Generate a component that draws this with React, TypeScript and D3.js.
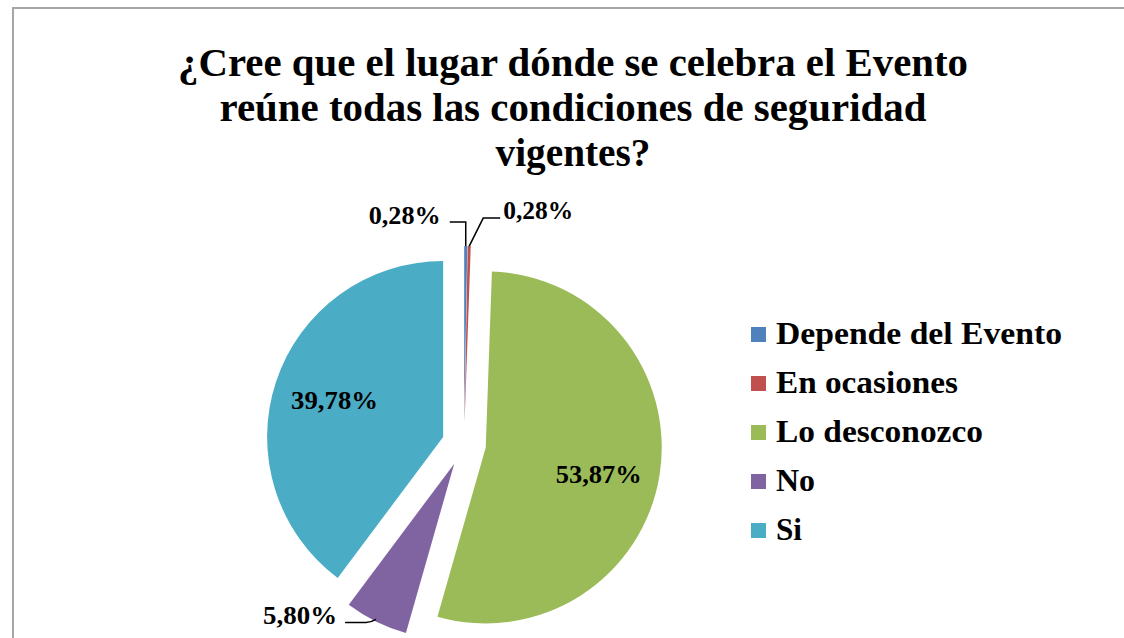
import React from "react";
import * as d3 from "d3";

const categories = ["Depende del Evento", "En ocasiones", "Lo desconozco", "No", "Si"];
const values = [0.28, 0.28, 53.87, 5.8, 39.78];
const valueLabels = ["0,28%", "0,28%", "53,87%", "5,80%", "39,78%"];
const colors = ["#4F81BD", "#C0504D", "#9BBB59", "#8064A2", "#4BACC6"];
const titleLines = [
  "¿Cree que el lugar dónde se celebra el Evento",
  "reúne todas las condiciones de seguridad",
  "vigentes?",
];

const W = 1124;
const H = 638;
const FONT = "'Liberation Serif', 'Times New Roman', Times, serif";

export default function App() {
  const cx = 464;
  const cy = 444;
  const R = 176;
  const explode = 22;

  const pie = d3.pie<number>().sort(null).value((d) => d).startAngle(0).endAngle(2 * Math.PI);
  const arcs = pie(values);
  const arcGen = d3.arc<d3.PieArcDatum<number>>().innerRadius(0).outerRadius(R);

  const titleWidths = [790, 707, 155];
  const titleBaselines = [76, 121, 166];

  const slices = arcs.map((a, i) => {
    const mid = (a.startAngle + a.endAngle) / 2;
    const dx = Math.sin(mid) * explode;
    const dy = -Math.cos(mid) * explode;
    const ox = cx + dx;
    const oy = cy + dy;
    const outer = [ox + Math.sin(mid) * R, oy - Math.cos(mid) * R];
    const inner = [ox + Math.sin(mid) * R * 0.65, oy - Math.cos(mid) * R * 0.65];
    return { a, i, mid, ox, oy, outer, inner };
  });

  const labelFont = 25;
  const labelWidths = [72, 70, 86, 74, 87];

  const renderLabel = (s: (typeof slices)[number]) => {
    const { i, outer, inner } = s;
    const txt = valueLabels[i];
    const common = {
      fontFamily: FONT,
      fontWeight: 700,
      fontSize: labelFont,
      fill: "#000",
      textLength: labelWidths[i],
      lengthAdjust: "spacingAndGlyphs" as const,
    };
    if (values[i] > 20) {
      const yOff = i === 2 ? 10 : 0;
      return (
        <text key={"l" + i} {...common} x={inner[0]} y={inner[1] + yOff + 8} textAnchor="middle">
          {txt}
        </text>
      );
    }
    if (i === 0) {
      const [px, py] = outer;
      const ly = py - 24;
      const path = `M${px},${py} L${px},${ly} L${px - 16},${ly}`;
      return (
        <g key={"l" + i}>
          <path d={path} fill="none" stroke="#000" strokeWidth={1.5} />
          <text {...common} x={px - 25} y={ly + 2} textAnchor="end">
            {txt}
          </text>
        </g>
      );
    }
    if (i === 1) {
      const [px, py] = outer;
      const ly = py - 28;
      const path = `M${px},${py} L${px + 14},${ly} L${px + 31},${ly}`;
      return (
        <g key={"l" + i}>
          <path d={path} fill="none" stroke="#000" strokeWidth={1.5} />
          <text {...common} x={px + 34} y={ly + 1} textAnchor="start">
            {txt}
          </text>
        </g>
      );
    }
    // No slice
    const [px, py] = outer;
    const ly = py + 1;
    const path = `M${px},${py - 2} Q${px - 5},${ly} ${px - 10},${ly} L${px - 31},${ly}`;
    return (
      <g key={"l" + i}>
        <path d={path} fill="none" stroke="#000" strokeWidth={1.5} />
        <text {...common} x={px - 39} y={ly + 2} textAnchor="end">
          {txt}
        </text>
      </g>
    );
  };

  const legendX = 751;
  const legendTextX = 776;
  const legendBase = 344;
  const legendStep = 49;
  const legendWidths = [286, 182, 207, 39, 26];

  return (
    <svg
      width={W}
      height={H}
      viewBox={`0 0 ${W} ${H}`}
      style={{ position: "absolute", left: 0, top: 0, background: "#fff" }}
    >
      <rect x={0} y={0} width={W} height={H} fill="#fff" />
      <path d={`M13,${H} L13,8 L${W},8`} fill="none" stroke="#a6a6a6" strokeWidth={2} />

      {titleLines.map((t, i) => (
        <text
          key={"t" + i}
          x={573}
          y={titleBaselines[i]}
          textAnchor="middle"
          fontFamily={FONT}
          fontWeight={700}
          fontSize={40}
          textLength={titleWidths[i]}
          lengthAdjust="spacingAndGlyphs"
          fill="#000"
        >
          {t}
        </text>
      ))}

      {slices.map((s) => (
        <path
          key={"s" + s.i}
          d={arcGen(s.a) || ""}
          transform={`translate(${s.ox},${s.oy})`}
          fill={colors[s.i]}
        />
      ))}

      {slices.map((s) => renderLabel(s))}

      {categories.map((c, i) => (
        <g key={"lg" + i}>
          <rect
            x={legendX}
            y={legendBase + i * legendStep - 17}
            width={15}
            height={15}
            fill={colors[i]}
          />
          <text
            x={legendTextX}
            y={legendBase + i * legendStep}
            fontFamily={FONT}
            fontWeight={700}
            fontSize={32}
            textLength={legendWidths[i]}
            lengthAdjust="spacingAndGlyphs"
            fill="#000"
          >
            {c}
          </text>
        </g>
      ))}
    </svg>
  );
}
